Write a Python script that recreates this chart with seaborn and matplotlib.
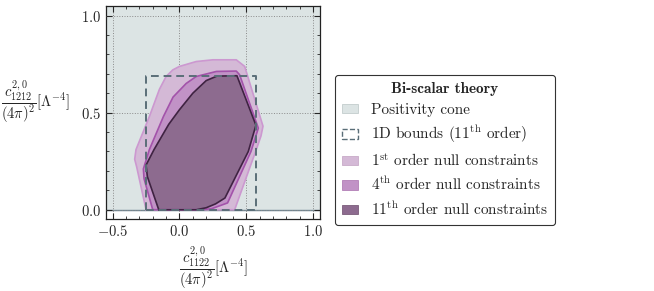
import numpy as np
import pandas as pd
import seaborn as sns
import matplotlib.pyplot as plt
from matplotlib.patches import Patch

# boundaries (x = c1122, y = c1212)
ORDER_1_X = [-0.25, -0.32, -0.335, -0.325, -0.225, -0.15, -0.10, -0.05, 0.0, 0.125, 0.25, 0.425, 0.488, 0.625, 0.61, 0.575, 0.413]
ORDER_1_Y = [0.0, 0.22, 0.26, 0.31, 0.48, 0.62, 0.686, 0.72, 0.738, 0.763, 0.772, 0.772, 0.738, 0.43, 0.38, 0.31, 0.0]

ORDER_4_X = [-0.20, -0.265, -0.27, -0.225, -0.12, -0.048, 0.05, 0.125, 0.276, 0.425, 0.45, 0.59, 0.535, 0.36, 0.30, 0.24, 0.16]
ORDER_4_Y = [0.0, 0.16, 0.21, 0.31, 0.48, 0.58, 0.65, 0.686, 0.712, 0.714, 0.695, 0.42, 0.30, 0.035, 0.02, 0.005, 0.0]

ORDER_11_X = [-0.155, -0.24, -0.25, -0.19, -0.08, 0.0, 0.10, 0.20, 0.28, 0.43, 0.572, 0.515, 0.34, 0.27, 0.20, 0.125]
ORDER_11_Y = [0.0, 0.17, 0.23, 0.31, 0.44, 0.515, 0.60, 0.665, 0.688, 0.69, 0.435, 0.30, 0.06, 0.03, 0.01, 0.0]

BOUNDS_1D_X = [-0.25, 0.57, 0.57, -0.25, -0.25]
BOUNDS_1D_Y = [0.0, 0.0, 0.69, 0.69, 0.0]

CONE_X = [-2.0, 2.0]

LEGEND_LABELS = [
    "Positivity cone",
    "1D bounds (11$^{\\mathrm{th}}$ order)",
    "1$^{\\mathrm{st}}$ order null constraints",
    "4$^{\\mathrm{th}}$ order null constraints",
    "11$^{\\mathrm{th}}$ order null constraints",
]

CONE_FACE = "#dce4e4"
CONE_EDGE = "#6f8794"
BOUNDS_EDGE = "#5a6e78"
FACES = ["#d4b9d6", "#c192c6", "#8d6b8f"]
EDGES = ["#cc98d0", "#a353aa", "#3f2342"]

sns.set_style("ticks")
plt.rcParams["font.family"] = ["serif"]
plt.rcParams["font.serif"] = ["cmr10", "DejaVu Serif"]
plt.rcParams["mathtext.fontset"] = "cm"
plt.rcParams["axes.formatter.use_mathtext"] = True
plt.rcParams["font.size"] = 10

fig = plt.figure(figsize=(6.54, 2.91), dpi=100)
ax = fig.add_axes([0.162, 0.246, 0.327, 0.734])

# positivity cone: everything above zero
ax.fill_between(CONE_X, [0, 0], [2, 2], color=CONE_FACE, zorder=1)
sns.lineplot(x=CONE_X, y=[0, 0], color=CONE_EDGE, lw=1.0, ax=ax, zorder=2)

shapes = [
    (ORDER_1_X, ORDER_1_Y),
    (ORDER_4_X, ORDER_4_Y),
    (ORDER_11_X, ORDER_11_Y),
]
for (xs, ys), face, edge in zip(shapes, FACES, EDGES):
    ax.fill(xs, ys, facecolor=face, edgecolor="none", zorder=3)
    frame = pd.DataFrame({"x": xs + xs[:1], "y": ys + ys[:1]})
    sns.lineplot(data=frame, x="x", y="y", sort=False, estimator=None,
                 color=edge, lw=1.2, ax=ax, zorder=4)

bounds = pd.DataFrame({"x": BOUNDS_1D_X, "y": BOUNDS_1D_Y})
sns.lineplot(data=bounds, x="x", y="y", sort=False, estimator=None,
             color=BOUNDS_EDGE, lw=1.4, ls=(0, (4, 2.5)), ax=ax, zorder=5)

ax.set_xlim(-0.55, 1.05)
ax.set_ylim(-0.05, 1.05)
ax.set_xticks([-0.5, 0.0, 0.5, 1.0])
ax.set_yticks([0.0, 0.5, 1.0])
ax.set_xticks(np.arange(-0.5, 1.01, 0.1), minor=True)
ax.set_yticks(np.arange(0.0, 1.01, 0.1), minor=True)
ax.tick_params(which="both", direction="in", top=True, right=True, labelsize=10.5)
ax.tick_params(which="major", length=4, width=0.8)
ax.tick_params(which="minor", length=2, width=0.6)
ax.grid(True, which="major", ls=":", color="#8a8a8a", lw=0.7, zorder=2)
ax.set_axisbelow(False)
for sp in ax.spines.values():
    sp.set_linewidth(0.9)
    sp.set_color("#222222")

ax.set_xlabel(r"$\dfrac{c^{2,0}_{1122}}{(4\pi)^2}[\Lambda^{-4}]$", fontsize=10.5, labelpad=4)
ax.set_ylabel(r"$\dfrac{c^{2,0}_{1212}}{(4\pi)^2}[\Lambda^{-4}]$", fontsize=10.5,
              rotation=0, va="center", ha="center")
ax.yaxis.set_label_coords(-0.33, 0.55)

handles = [
    Patch(facecolor=CONE_FACE, edgecolor="#c3cdcd", lw=0.6),
    Patch(facecolor="white", edgecolor=BOUNDS_EDGE, ls="--", lw=1.0),
    Patch(facecolor=FACES[0], edgecolor="#c8aac8", lw=0.6),
    Patch(facecolor=FACES[1], edgecolor="#b27fb6", lw=0.6),
    Patch(facecolor=FACES[2], edgecolor="#7a5c7a", lw=0.6),
]
leg = fig.legend(handles, LEGEND_LABELS, loc="center left",
                 bbox_to_anchor=(0.512, 0.485), bbox_transform=fig.transFigure,
                 borderaxespad=0,
                 title="Bi-scalar theory", fontsize=11, frameon=True,
                 fancybox=True, framealpha=1, edgecolor="#333333",
                 handlelength=1.05, handleheight=0.6, borderpad=0.45,
                 labelspacing=0.45, handletextpad=0.85)
leg.get_title().set_fontfamily("cmb10")
leg.get_title().set_fontsize(11)
leg.get_frame().set_linewidth(0.8)

fig.savefig("out.png", dpi=100)
